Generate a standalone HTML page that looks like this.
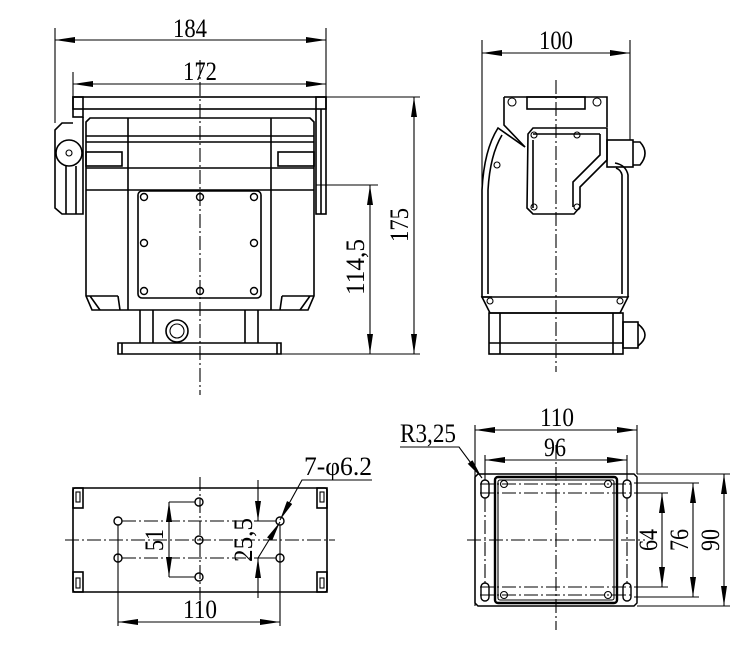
<!DOCTYPE html>
<html><head><meta charset="utf-8"><style>
html,body{margin:0;padding:0;background:#fff;}
svg{display:block;}
text{font-family:"Liberation Serif",serif;font-size:26px;fill:#000;}
</style></head><body>
<svg width="756" height="659" viewBox="0 0 756 659" xmlns="http://www.w3.org/2000/svg">
<defs>
<marker id="a" viewBox="0 0 20 6" refX="20" refY="3" markerWidth="20" markerHeight="6" markerUnits="userSpaceOnUse" orient="auto-start-reverse"><path d="M0,0 L20,3 L0,6z" fill="#000"/></marker>
</defs>
<g fill="none" stroke="#000" stroke-width="1.1">
<!-- ===== front view ===== -->
<line x1="55" y1="40" x2="326" y2="40" marker-start="url(#a)" marker-end="url(#a)"/>
<line x1="55" y1="28" x2="55" y2="123"/>
<line x1="326" y1="28" x2="326" y2="97"/>
<line x1="73" y1="84" x2="326" y2="84" marker-start="url(#a)" marker-end="url(#a)"/>
<line x1="73" y1="72" x2="73" y2="97"/>
<g stroke-width="1.6">
<rect x="73" y="97" width="253" height="12"/>
<rect x="73" y="97" width="10" height="20"/>
<rect x="316" y="97" width="10" height="117"/>
<line x1="321" y1="109" x2="321" y2="214"/>
<path d="M83 117 V214 H62 L55 208 V130 L62 123 H73"/>
<path d="M66 166 V214 M76 166 V214"/>
<circle cx="69" cy="153" r="13"/>
<path d="M86 122 L90 118 H310 L314 122 V296 L308 310 H92 L86 296 Z"/>
<line x1="86" y1="136" x2="314" y2="136"/>
<line x1="86" y1="142" x2="314" y2="142"/>
<line x1="86" y1="168" x2="314" y2="168"/>
<line x1="86" y1="190" x2="314" y2="190"/>
<line x1="128" y1="118" x2="128" y2="310"/>
<line x1="271" y1="118" x2="271" y2="310"/>
<rect x="86" y="152" width="36" height="14"/>
<rect x="278" y="152" width="36" height="14"/>
<rect x="138" y="191" width="123" height="107" rx="4"/>
<path d="M90 296 L100 310 M118 296 L120 310 M310 296 L300 310 M282 296 L280 310 M86 296 H118 M282 296 H314"/>
<path d="M140 310 V343 M258 310 V343 M153 310 V343 M245 310 V343"/>
<path d="M118 343 H281 V354 H118 Z"/>
<line x1="122" y1="343" x2="122" y2="354"/>
<line x1="277" y1="343" x2="277" y2="354"/>
<circle cx="177" cy="331" r="11"/>
</g>
<circle cx="69" cy="153" r="3"/>
<circle cx="177" cy="331" r="7"/>
<g stroke-width="1.4">
<circle cx="144" cy="197" r="3.5"/><circle cx="200" cy="197" r="3.5"/><circle cx="254" cy="197" r="3.5"/>
<circle cx="144" cy="243" r="3.5"/><circle cx="254" cy="243" r="3.5"/>
<circle cx="144" cy="291" r="3.5"/><circle cx="200" cy="291" r="3.5"/><circle cx="254" cy="291" r="3.5"/>
</g>
<line x1="200" y1="60" x2="200" y2="395" stroke-dasharray="14,3,2,3"/>
<line x1="326" y1="97" x2="420" y2="97"/>
<line x1="281" y1="354" x2="420" y2="354"/>
<line x1="414" y1="97" x2="414" y2="354" marker-start="url(#a)" marker-end="url(#a)"/>
<line x1="316" y1="185" x2="378" y2="185"/>
<line x1="370" y1="185" x2="370" y2="354" marker-start="url(#a)" marker-end="url(#a)"/>

<!-- ===== side view ===== -->
<line x1="482" y1="53" x2="630" y2="53" marker-start="url(#a)" marker-end="url(#a)"/>
<line x1="482" y1="40" x2="482" y2="190"/>
<line x1="630" y1="40" x2="630" y2="140"/>
<g stroke-width="1.6">
<path d="M504 97 H607 V127 M504 97 V125 L525 147"/>
<rect x="527" y="97" width="58" height="12"/>
<path d="M525 147 L498 128 Q484 150 482 190 V297 L492 297 M628 297 V175 Q626 165 615 163"/>
<path d="M502 135 Q490 155 488 190 V294 M622 294 V175 Q621 170 616 168"/>
<path d="M528 134 L533 128 H607 V160 L580 187 V207 L574 214 H533 L527 208 Z"/>
<path d="M533 140 V208 M533 134 H600 M600 134 L600 155 L573 182 V207"/>
<rect x="607" y="140" width="26" height="27"/>
<path d="M633 142 H640 Q650 153 640 165 H633"/>
<path d="M482 297 H628 L620 313 H490 Z"/>
<rect x="489" y="313" width="134" height="41"/>
<line x1="489" y1="343" x2="623" y2="343"/>
<line x1="500" y1="313" x2="500" y2="354"/>
<line x1="613" y1="313" x2="613" y2="354"/>
<rect x="623" y="322" width="15" height="26"/>
<path d="M638 324 Q652 335 638 346"/>
</g>
<circle cx="512" cy="102" r="4"/><circle cx="597" cy="102" r="4"/>
<circle cx="534" cy="135" r="3"/><circle cx="577" cy="135" r="3"/>
<circle cx="534" cy="207" r="3"/><circle cx="577" cy="207" r="3"/>
<circle cx="497" cy="165" r="3"/>
<circle cx="490" cy="301" r="3"/><circle cx="620" cy="301" r="3"/>
<line x1="556" y1="80" x2="556" y2="372" stroke-dasharray="14,3,2,3"/>

<!-- ===== bottom-left view ===== -->
<g stroke-width="1.6">
<rect x="73" y="488" width="254" height="104" rx="2"/>
<rect x="73" y="488" width="10" height="20"/>
<rect x="317" y="488" width="10" height="20"/>
<rect x="73" y="572" width="10" height="20"/>
<rect x="317" y="572" width="10" height="20"/>
</g>
<rect x="76" y="492" width="4" height="10"/><rect x="320" y="492" width="4" height="10"/>
<rect x="76" y="578" width="4" height="10"/><rect x="320" y="578" width="4" height="10"/>
<g stroke-width="1.4">
<circle cx="118" cy="521" r="4"/><circle cx="199" cy="502" r="4"/><circle cx="199" cy="540" r="4"/>
<circle cx="199" cy="577" r="4"/><circle cx="118" cy="558" r="4"/><circle cx="280" cy="521" r="4"/><circle cx="280" cy="558" r="4"/>
</g>
<line x1="65" y1="540" x2="335" y2="540" stroke-dasharray="14,3,2,3"/>
<line x1="122" y1="521" x2="276" y2="521" stroke-dasharray="14,3,2,3"/>
<line x1="122" y1="558" x2="276" y2="558" stroke-dasharray="14,3,2,3"/>
<line x1="200" y1="477" x2="200" y2="600" stroke-dasharray="14,3,2,3"/>
<line x1="169" y1="502" x2="195" y2="502"/><line x1="169" y1="577" x2="195" y2="577"/>
<line x1="169" y1="502" x2="169" y2="577" marker-start="url(#a)" marker-end="url(#a)"/>
<line x1="258" y1="521" x2="276" y2="521"/><line x1="258" y1="558" x2="276" y2="558"/>
<line x1="258" y1="480" x2="258" y2="521" marker-end="url(#a)"/>
<line x1="258" y1="598" x2="258" y2="558" marker-end="url(#a)"/>
<line x1="258" y1="558" x2="280" y2="522" marker-end="url(#a)"/>
<polyline points="372,480 302,480 280,520" marker-end="url(#a)"/>
<line x1="118" y1="525" x2="118" y2="626"/><line x1="280" y1="525" x2="280" y2="626"/>
<line x1="118" y1="622" x2="280" y2="622" marker-start="url(#a)" marker-end="url(#a)"/>

<!-- ===== bottom-right view ===== -->
<line x1="475" y1="430" x2="637" y2="430" marker-start="url(#a)" marker-end="url(#a)"/>
<line x1="475" y1="425" x2="475" y2="606"/>
<line x1="637" y1="425" x2="637" y2="474"/>
<line x1="485" y1="460" x2="627" y2="460" marker-start="url(#a)" marker-end="url(#a)"/>
<line x1="485" y1="455" x2="485" y2="480"/>
<line x1="627" y1="455" x2="627" y2="480"/>
<path d="M478 474 H634 L637 477 V603 L634 606 H478 L475 603 V477 Z" stroke-width="1.5"/>
<rect x="495" y="477" width="122" height="126" rx="3" stroke-width="2.4"/>
<rect x="498" y="480" width="116" height="120" rx="2"/>
<rect x="481" y="480" width="8" height="18" rx="4" stroke-width="1.4"/>
<rect x="623" y="480" width="8" height="18" rx="4" stroke-width="1.4"/>
<rect x="481" y="583" width="8" height="18" rx="4" stroke-width="1.4"/>
<rect x="623" y="583" width="8" height="18" rx="4" stroke-width="1.4"/>
<circle cx="504" cy="484" r="3.5"/><circle cx="608" cy="484" r="3.5"/><circle cx="504" cy="595" r="3.5"/><circle cx="608" cy="595" r="3.5"/>
<g stroke-dasharray="14,3,2,3">
<line x1="485" y1="498" x2="485" y2="583"/><line x1="627" y1="498" x2="627" y2="583"/>
<line x1="480" y1="484" x2="634" y2="484"/><line x1="480" y1="595" x2="634" y2="595"/>
<line x1="480" y1="493" x2="634" y2="493"/><line x1="480" y1="587" x2="634" y2="587"/>
<line x1="556" y1="445" x2="556" y2="630"/><line x1="467" y1="540" x2="645" y2="540"/>
</g>
<line x1="634" y1="493" x2="668" y2="493"/><line x1="634" y1="587" x2="668" y2="587"/>
<line x1="662" y1="493" x2="662" y2="587" marker-start="url(#a)" marker-end="url(#a)"/>
<line x1="634" y1="483" x2="699" y2="483"/><line x1="634" y1="597" x2="699" y2="597"/>
<line x1="693" y1="483" x2="693" y2="597" marker-start="url(#a)" marker-end="url(#a)"/>
<line x1="637" y1="474" x2="730" y2="474"/><line x1="637" y1="606" x2="730" y2="606"/>
<line x1="724" y1="474" x2="724" y2="606" marker-start="url(#a)" marker-end="url(#a)"/>
<polyline points="400,447 459,447 482,478" marker-end="url(#a)"/>
</g>
<g>
<text x="173" y="37" textLength="34" lengthAdjust="spacingAndGlyphs">184</text>
<text x="183" y="80" textLength="34" lengthAdjust="spacingAndGlyphs">172</text>
<text x="539" y="49" textLength="34" lengthAdjust="spacingAndGlyphs">100</text>
<text transform="translate(408,225) rotate(-90)" x="-17" y="0" textLength="34" lengthAdjust="spacingAndGlyphs">175</text>
<text transform="translate(364,267) rotate(-90)" x="-28" y="0" textLength="56" lengthAdjust="spacingAndGlyphs">114,5</text>
<text x="304" y="475" textLength="68" lengthAdjust="spacingAndGlyphs">7-φ6.2</text>
<text transform="translate(163,540) rotate(-90)" x="-11" y="0" textLength="22" lengthAdjust="spacingAndGlyphs">51</text>
<text transform="translate(252,540) rotate(-90)" x="-22" y="0" textLength="44" lengthAdjust="spacingAndGlyphs">25,5</text>
<text x="183" y="618" textLength="34" lengthAdjust="spacingAndGlyphs">110</text>
<text x="540" y="426" textLength="34" lengthAdjust="spacingAndGlyphs">110</text>
<text x="544" y="456" textLength="22" lengthAdjust="spacingAndGlyphs">96</text>
<text x="400" y="442" textLength="56" lengthAdjust="spacingAndGlyphs">R3,25</text>
<text transform="translate(657,540) rotate(-90)" x="-11" y="0" textLength="22" lengthAdjust="spacingAndGlyphs">64</text>
<text transform="translate(688,540) rotate(-90)" x="-11" y="0" textLength="22" lengthAdjust="spacingAndGlyphs">76</text>
<text transform="translate(719,540) rotate(-90)" x="-11" y="0" textLength="22" lengthAdjust="spacingAndGlyphs">90</text>
</g>
</svg>
</body></html>
